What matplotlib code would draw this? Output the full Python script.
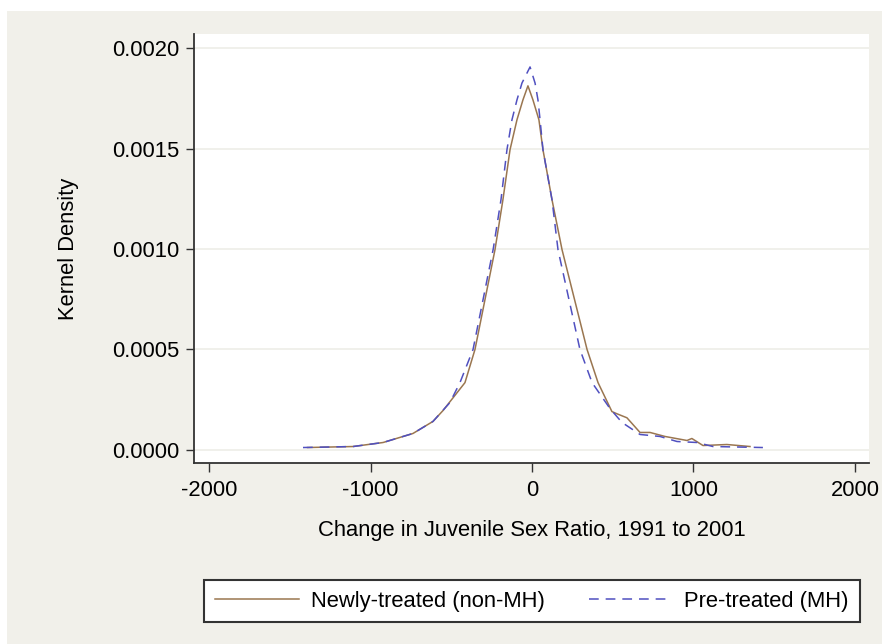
import matplotlib
matplotlib.use("Agg")
import matplotlib.pyplot as plt
from matplotlib.patches import Rectangle

# Kernel density estimates
newly_x = [-1390, -1108, -922, -737, -613, -551, -415, -353, -229, -180,
           -136, -93, -56, -25, 6, 43, 68, 124, 186, 341, 409, 495, 526, 588,
           669, 731, 824, 960, 990, 1059, 1207, 1350]
newly_y = [0.000012, 0.000017, 0.000037, 0.000082, 0.000142, 0.000196,
           0.000335, 0.000500, 0.000997, 0.001245, 0.001494,
           0.001643, 0.001742, 0.001812, 0.001742, 0.001643, 0.001494,
           0.001245, 0.000997, 0.000500, 0.000335, 0.000191, 0.000180,
           0.000160, 0.000087, 0.000087, 0.000067, 0.000047, 0.000057,
           0.000022, 0.000027, 0.000017]

pre_x = [-1418, -1108, -922, -737, -613, -508, -446, -365, -240, -192, -155,
         -124, -93, -62, -12, 19, 37, 50, 68, 124, 161, 297, 372, 483, 557,
         669, 793, 898, 1022, 1121, 1430]
pre_y = [0.000012, 0.000017, 0.000037, 0.000082, 0.000142, 0.000236,
         0.000335, 0.000500, 0.001000, 0.001245, 0.001494, 0.001643,
         0.001742, 0.001826, 0.001906, 0.001826, 0.001742, 0.001643,
         0.001494, 0.001245, 0.000997, 0.000500, 0.000335, 0.000206,
         0.000137, 0.000077, 0.000067, 0.000042, 0.000037, 0.000017,
         0.000012]

x_ticks = [-2000, -1000, 0, 1000, 2000]
y_ticks = [0.0, 0.0005, 0.0010, 0.0015, 0.0020]
y_ticklabels = ["0.0000", "0.0005", "0.0010", "0.0015", "0.0020"]

labels = ["Newly-treated (non-MH)", "Pre-treated (MH)"]

W, H = 882, 644
fs = 15.8
plt.rcParams["font.family"] = ["Liberation Sans", "DejaVu Sans"]
plt.rcParams["lines.scale_dashes"] = False
plt.rcParams["axes.unicode_minus"] = False

fig = plt.figure(figsize=(W / 100, H / 100), dpi=100)
fig.patch.set_facecolor("white")

# grey outer panel, behind the axes
fig.patches.append(Rectangle((7 / W, 0), (W - 7) / W, (H - 11) / H,
                             transform=fig.transFigure, facecolor="#F1F0EA",
                             edgecolor="none", zorder=-5))

ax = fig.add_axes([194 / W, 1 - 463 / H, (869 - 194) / W, (463 - 34) / H])
ax.set_facecolor("white")

ax.plot(newly_x, newly_y, color="#9A7650", lw=1.1, label=labels[0])
ax.plot(pre_x, pre_y, color="#5050C0", lw=1.1, linestyle=(0, (7, 5)),
        label=labels[1])

ax.set_xlim(-2093, 2087)
ax.set_ylim(-0.000065, 0.00207)
ax.set_xticks(x_ticks)
ax.set_yticks(y_ticks)
ax.set_yticklabels(y_ticklabels)
ax.grid(axis="y", color="#EEEEE7", lw=1.2)
ax.set_axisbelow(True)

for s in ["top", "right"]:
    ax.spines[s].set_visible(False)
for s in ["left", "bottom"]:
    ax.spines[s].set_color("#333333")
    ax.spines[s].set_linewidth(1.3)

ax.tick_params(axis="y", length=5.5, width=1.0, color="#333333", pad=5,
               labelsize=fs, labelcolor="black")
ax.tick_params(axis="x", length=6.5, width=1.0, color="#333333", pad=5.5,
               labelsize=fs, labelcolor="black")

ax.set_xlabel("Change in Juvenile Sex Ratio, 1991 to 2001", fontsize=fs,
              labelpad=14)
ax.set_ylabel("Kernel Density", fontsize=fs, labelpad=24)

leg = fig.legend(loc="center", bbox_to_anchor=(532 / W, 1 - 601 / H),
                 ncol=2, fontsize=fs, frameon=True, fancybox=False,
                 handlelength=3.8, handletextpad=0.55, columnspacing=2.0,
                 borderpad=0.5, borderaxespad=0)
leg.get_frame().set_edgecolor("#333333")
leg.get_frame().set_linewidth(1.5)
leg.get_frame().set_facecolor("white")
leg.get_frame().set_alpha(1)

fig.savefig("out.png", dpi=100)
